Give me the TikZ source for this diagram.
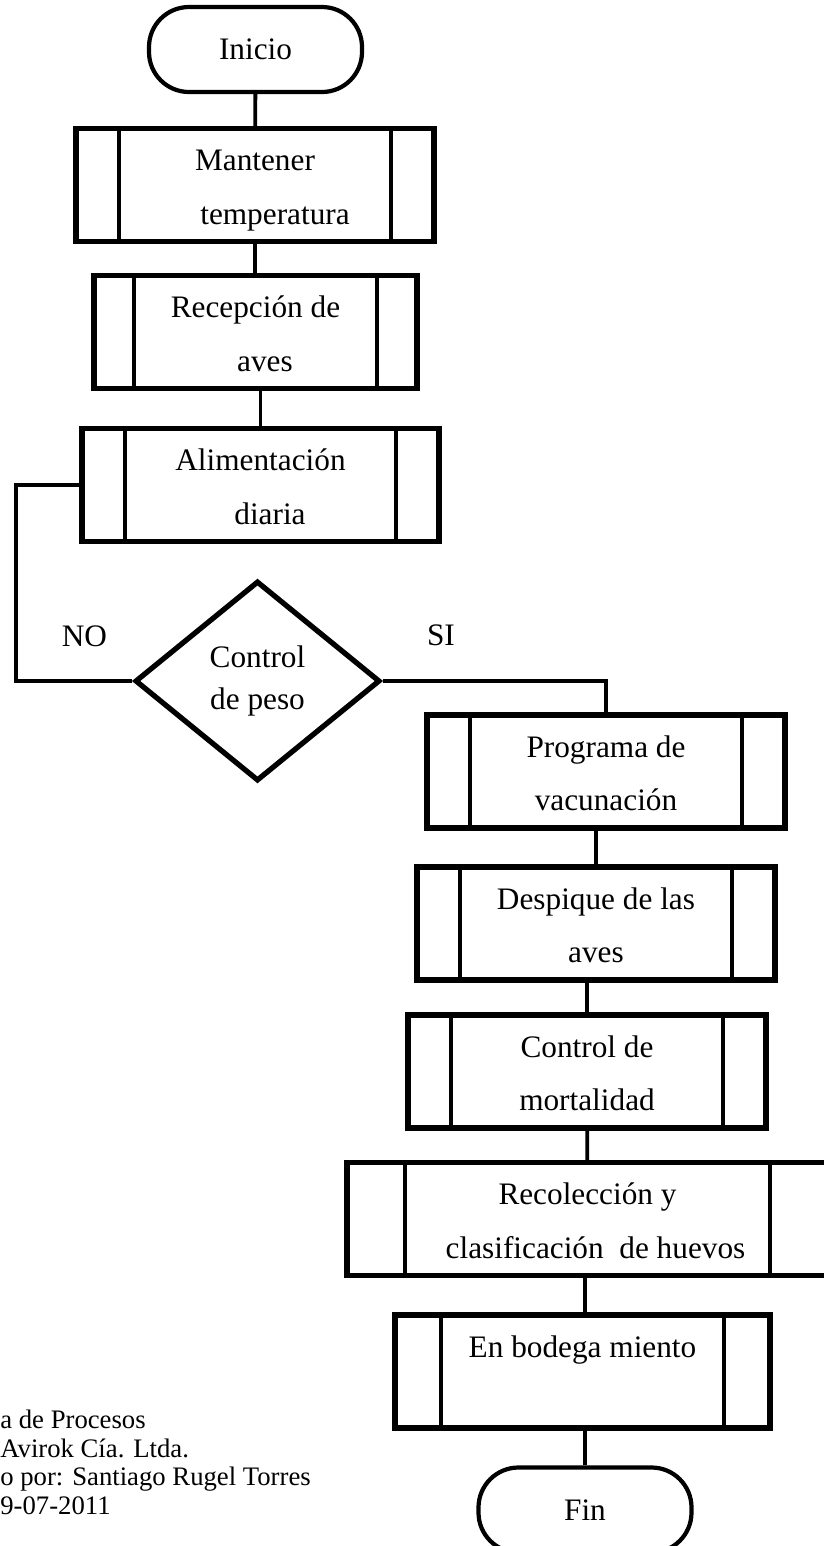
\documentclass[tikz,border=0pt]{standalone}
\usepackage{fontspec}
\setmainfont{Liberation Serif}
\usetikzlibrary{shapes.geometric}

\newcommand{\pxu}{0.02cm}
\newcommand{\twolines}[2]{\rule{0pt}{0.66cm}#1\\#2\rule[-0.16cm]{0pt}{0.16cm}}

\begin{document}
\begin{tikzpicture}[x=0.02cm, y=-0.02cm,
    boxfont/.style={font=\fontsize{17.8}{30.6}\selectfont},
    subproc/.style={draw, rectangle, line width=3pt, inner sep=0pt,
        minimum height=113*\pxu, align=center, boxfont,
        path picture={\draw[line width=2.7pt]
            ([xshift=#1*\pxu]path picture bounding box.south west) -- ([xshift=#1*\pxu]path picture bounding box.north west)
            ([xshift=-#1*\pxu]path picture bounding box.south east) -- ([xshift=-#1*\pxu]path picture bounding box.north east);}},
    subproc/.default=43,
    terminal/.style={draw, rectangle, rounded corners=0.8cm, line width=2.4pt,
        minimum width=213*\pxu, minimum height=85*\pxu, inner sep=0pt, boxfont},
    decision/.style={draw, diamond, line width=3pt, aspect=1.225, inner sep=0pt,
        minimum width=245*\pxu, minimum height=200*\pxu, align=center,
        font=\fontsize{17.8}{23.5}\selectfont},
    link/.style={line width=2.2pt},
    branch/.style={line width=2.8pt}]
        \useasboundingbox (0,0) rectangle (824,1546);

        % Left column
        \node[terminal] (inicio) at (255.5,49.5) {Inicio};
        \node[subproc, minimum width=358*\pxu] (mantener) at (255,185)
            {\twolines{Mantener}{\hspace*{0.8cm}temperatura}};
        \node[subproc=40, minimum width=323*\pxu] (recepcion) at (255.5,332)
            {\twolines{Recepción de}{\hspace*{0.38cm}aves}};
        \node[subproc, minimum width=357*\pxu] (alimentacion) at (260.5,485)
            {\twolines{Alimentación}{\hspace*{0.38cm}diaria}};
        \node[decision] (peso) at (257.5,681) {Control\\de peso};

        % Right column
        \node[subproc, minimum width=358*\pxu] (vacunacion) at (606,771.5)
            {\twolines{Programa de}{vacunación}};
        \node[subproc, minimum width=358*\pxu] (despique) at (596,923.5)
            {\twolines{Despique de las}{aves}};
        \node[subproc, minimum width=358*\pxu] (mortalidad) at (587,1071.5)
            {\twolines{Control de}{mortalidad}};
        \node[subproc=58, minimum width=481*\pxu] (recoleccion) at (587.5,1219)
            {\twolines{Recolección y}{\hspace*{0.32cm}clasificación\ \ de huevos}};
        \node[subproc=46, minimum width=375*\pxu] (bodega) at (582.5,1371.5)
            {\twolines{En bodega miento}{}};
        \node[terminal] (fin) at (585,1510) {Fin};

        % Connectors
        \draw[link] (inicio) -- (mantener);
        \draw[link] (mantener) -- (recepcion.north -| mantener.south);
        \draw[link] (alimentacion.north) -- (alimentacion.north |- recepcion.south);
        \draw[link] (despique.north) -- (despique.north |- vacunacion.south);
        \draw[link] (mortalidad.north) -- (mortalidad.north |- despique.south);
        \draw[link] (mortalidad) -- (recoleccion);
        \draw[link] (bodega.north -| fin.north) -- (recoleccion.south -| fin.north);
        \draw[link] (fin) -- (bodega.south -| fin.north);

        % Decision branches
        \coordinate (noturn) at (16,681);
        \draw[branch] (peso.west) -- (noturn) |- (alimentacion.west);
        \draw[branch] (peso.east) -| (vacunacion.north);
        \node[boxfont, inner sep=0pt, anchor=base] (no) at (84.5,646) {NO};
        \node[boxfont, inner sep=0pt, anchor=base] (si) at (441,645) {SI};

        % Footer
        \node[font=\fontsize{15.2}{16.2}\selectfont, inner sep=0pt, anchor=north west, align=left] (pie) at (0,1410)
            {a de Procesos\\Avirok Cía. Ltda.\\o por: Santiago Rugel Torres\\9-07-2011};
\end{tikzpicture}
\end{document}
